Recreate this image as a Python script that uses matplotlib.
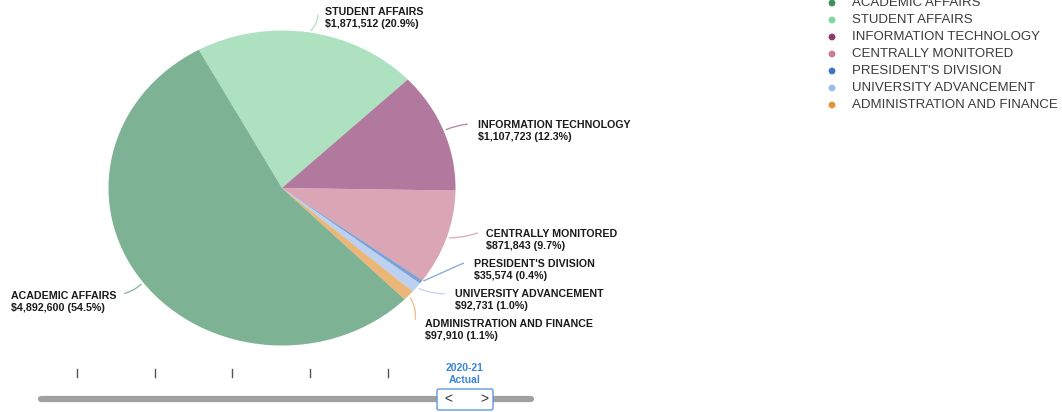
import numpy as np
import matplotlib
matplotlib.use("Agg")
import matplotlib.pyplot as plt
from matplotlib.patches import FancyBboxPatch

plt.rcParams['font.family'] = ['Liberation Sans', 'DejaVu Sans']

# data
categories = ["ACADEMIC AFFAIRS", "STUDENT AFFAIRS", "INFORMATION TECHNOLOGY",
              "CENTRALLY MONITORED", "PRESIDENT'S DIVISION", "UNIVERSITY ADVANCEMENT",
              "ADMINISTRATION AND FINANCE"]
amounts = [4892600, 1871512, 1107723, 871843, 35574, 92731, 97910]
colors = ["#3f8f62", "#86d3a2", "#8c3a70", "#c97b93", "#3a78c6", "#9dbbea", "#e0963a"]
period_label = ["2020-21", "Actual"]

# label positions in pixels (left edge, first line center)
label_pos = [(11, 296), (325, 12), (478, 125), (486, 234), (474, 264), (455, 294), (425, 324)]
label_ends = [(122, 294), (318, 12), (470, 124), (480, 232), (466, 262), (447, 294), (415, 322)]
rads = [0.15, -0.25, 0.1, -0.1, 0.0, -0.1, 0.2]

W, H = 1062, 412
fig = plt.figure(figsize=(W / 100, H / 100), dpi=100)

# pie in its own axes (slightly elliptical as in the screenshot)
cx, cy, rx, ry = 282, 188, 173.5, 157.5
axp = fig.add_axes([(cx - rx) / W, (H - cy - ry) / H, 2 * rx / W, 2 * ry / H])
wedges, _ = axp.pie(amounts, colors=colors, startangle=315, counterclock=False,
                    wedgeprops=dict(linewidth=0, alpha=0.68))
axp.set_xlim(-1, 1)
axp.set_ylim(-1, 1)
axp.set_aspect('auto')
axp.axis('off')

# overlay in pixel coords
ax2 = fig.add_axes([0, 0, 1, 1])
ax2.set_xlim(0, W)
ax2.set_ylim(H, 0)
ax2.axis('off')

total = sum(amounts)
for i, w in enumerate(wedges):
    mid = np.deg2rad((w.theta1 + w.theta2) / 2)
    ex, ey = cx + rx * np.cos(mid), cy - ry * np.sin(mid)
    lx, ly = label_pos[i]
    tx, ty = label_ends[i]
    ax2.annotate("", xy=(ex, ey), xytext=(tx, ty),
                 arrowprops=dict(arrowstyle='-', color=colors[i], alpha=0.6, lw=1,
                                 connectionstyle=f"arc3,rad={rads[i]}"))
    ax2.text(lx, ly, categories[i], fontsize=7.7, fontweight='bold', color='#1a1a1a',
             va='center', ha='left')
    ax2.text(lx, ly + 12, f"${amounts[i]:,} ({amounts[i] / total * 100:.1f}%)",
             fontsize=7.7, fontweight='bold', color='#1a1a1a', va='center', ha='left')

# legend
for i, name in enumerate(categories):
    y = 3 + i * 17
    ax2.scatter([832], [y], s=24, color=colors[i], edgecolor='none')
    ax2.text(852, y, name, fontsize=9.5, color='#3a3a3a', va='center', ha='left')

# slider
for x in [77, 155, 232, 310, 388]:
    ax2.plot([x, x], [369, 377], color='#555555', lw=1)
ax2.plot([41, 531], [399, 399], color='#a0a0a0', lw=4.5, solid_capstyle='round', zorder=1)
box = FancyBboxPatch((437, 389), 56, 21, boxstyle="round,pad=0,rounding_size=2",
                     facecolor='white', edgecolor='#5b9be0', lw=1, zorder=3)
ax2.add_patch(box)
ax2.text(448, 399, "<", fontsize=10, color='#333333', ha='center', va='center', zorder=4)
ax2.text(484, 399, ">", fontsize=10, color='#333333', ha='center', va='center', zorder=4)
ax2.text(465, 368, period_label[0], fontsize=7.5, fontweight='bold', color='#3a86d8',
         ha='center', va='center')
ax2.text(465, 380, period_label[1], fontsize=7.5, fontweight='bold', color='#3a86d8',
         ha='center', va='center')

fig.savefig("out.png", dpi=100, facecolor='white')
